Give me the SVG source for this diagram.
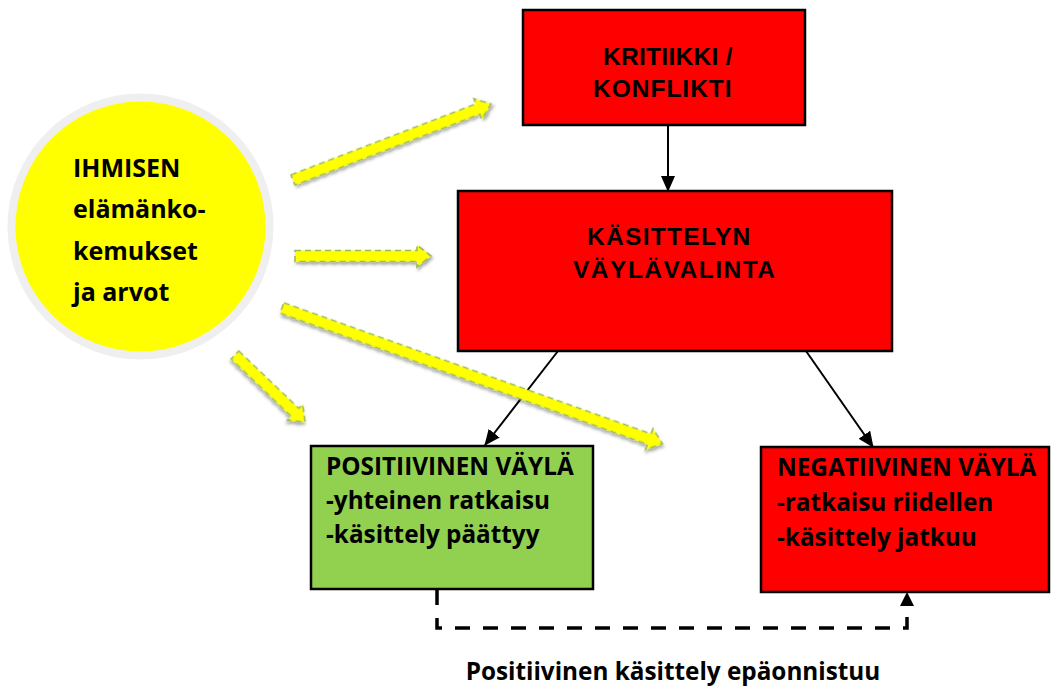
<svg xmlns="http://www.w3.org/2000/svg" width="1051" height="686" viewBox="0 0 1051 686">
<style>
.box{stroke:#000;stroke-width:2.5}
.red{fill:#ff0000}
.green{fill:#92d050}
.arial{font-family:"Liberation Sans",Arial,sans-serif;font-weight:bold;fill:#000}
.cal{font-family:"Open Sans",Lato,sans-serif;font-weight:bold;fill:#000}
.yarrow{fill:#ffff00;stroke:#9bbb59;stroke-width:1.6;stroke-dasharray:6 4;filter:url(#shadow)}
.conn{stroke:#000;stroke-width:2;fill:none}
</style>
<defs>
<filter id="shadow" x="-20%" y="-50%" width="140%" height="200%">
<feDropShadow dx="1.5" dy="2.5" stdDeviation="1.8" flood-color="#000" flood-opacity="0.35"/>
</filter>
<marker id="ahBig" markerWidth="16" markerHeight="14" refX="15" refY="7" orient="auto" markerUnits="userSpaceOnUse" viewBox="0 0 16 14">
<path d="M0,0 L16,7 L0,14 z" fill="#000"/>
</marker>
</defs>
<rect width="1051" height="686" fill="#fff"/>

<g id="ihminen">
<circle cx="140.5" cy="226.5" r="129" fill="#ffff00" stroke="#efefef" stroke-width="8"/>
<text class="cal" font-size="25" x="73" y="177">IHMISEN</text>
<text class="cal" font-size="25" x="73" y="218">elämänko-</text>
<text class="cal" font-size="25" x="73" y="260">kemukset</text>
<text class="cal" font-size="25" x="73" y="301">ja arvot</text>
</g>

<g id="kritiikki">
<rect class="box red" x="523" y="10" width="282" height="115"/>
<text class="arial" font-size="24.5" letter-spacing="0.3" x="603" y="65">KRITIIKKI /</text>
<text class="arial" font-size="24.5" letter-spacing="1" x="593" y="97">KONFLIKTI</text>
</g>

<g id="kasittely">
<rect class="box red" x="458" y="191" width="434" height="160"/>
<text class="arial" font-size="24.5" letter-spacing="1.3" x="587" y="245">KÄSITTELYN</text>
<text class="arial" font-size="24.5" letter-spacing="1.5" x="573" y="278">VÄYLÄVALINTA</text>
</g>

<g id="positiivinen">
<rect class="box green" x="311" y="446" width="282" height="143"/>
<text class="cal" font-size="24.3" x="326" y="475">POSITIIVINEN VÄYLÄ</text>
<text class="cal" font-size="24.3" x="326" y="509">-yhteinen ratkaisu</text>
<text class="cal" font-size="24.3" x="326" y="543">-käsittely päättyy</text>
</g>

<g id="negatiivinen">
<rect class="box red" x="761" y="447" width="288" height="145"/>
<text class="cal" font-size="24.3" x="777" y="476">NEGATIIVINEN VÄYLÄ</text>
<text class="cal" font-size="24.3" x="777" y="511">-ratkaisu riidellen</text>
<text class="cal" font-size="24.3" x="777" y="546">-käsittely jatkuu</text>
</g>

<g id="connectors">
<line class="conn" x1="668" y1="125" x2="668" y2="191" marker-end="url(#ahBig)"/>
<line class="conn" x1="558" y1="351" x2="485" y2="445" marker-end="url(#ahBig)"/>
<line class="conn" x1="806" y1="351" x2="873" y2="447" marker-end="url(#ahBig)"/>
<polyline fill="none" stroke="#000" stroke-width="3.5" stroke-dasharray="15 13" points="437,590 437,628 907,628 907,606"/>
<path d="M900,606 L914,606 L907,592 z" fill="#000"/>
<g transform="translate(293,180) rotate(-21)"><polygon class="yarrow" points="0,-5.5 198,-5.5 198,-11 212,0 198,11 198,5.5 0,5.5"/></g>
<g transform="translate(295,256)"><polygon class="yarrow" points="0,-5.5 122,-5.5 122,-11 136,0 122,11 122,5.5 0,5.5"/></g>
<g transform="translate(282,308) rotate(19.65)"><polygon class="yarrow" points="0,-5.5 390,-5.5 390,-11 404,0 390,11 390,5.5 0,5.5"/></g>
<g transform="translate(235,355) rotate(43.7)"><polygon class="yarrow" points="0,-5.5 83,-5.5 83,-11 97,0 83,11 83,5.5 0,5.5"/></g>
</g>

<text class="cal" font-size="24.3" x="673" y="680" text-anchor="middle">Positiivinen käsittely epäonnistuu</text>
</svg>
